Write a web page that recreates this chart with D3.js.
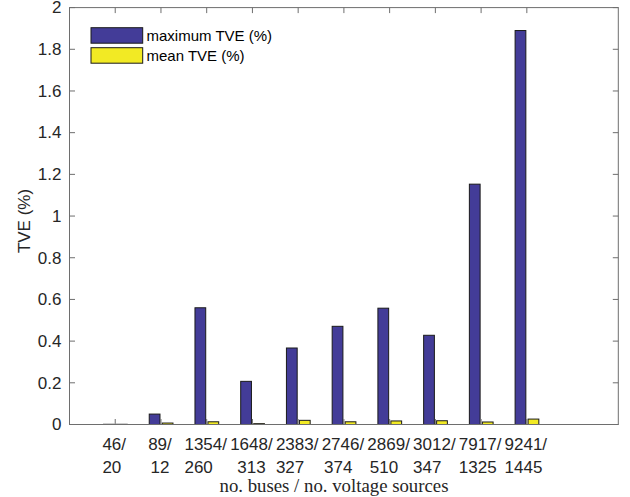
<!DOCTYPE html>
<html>
<head>
<meta charset="utf-8">
<script src="https://cdn.jsdelivr.net/npm/d3@7"></script>
<style>
  html, body { margin: 0; padding: 0; background: #fff; }
  svg { display: block; }
  text { white-space: pre; }
</style>
</head>
<body>
<svg id="chart" width="630" height="497"></svg>
<script>
// ---- data ----
const labelsTop = ["46/", "89/", "1354/", "1648/", "2383/", "2746/", "2869/", "3012/", "7917/", "9241/"];
const labelsBottom = ["20 ", "12", "260   ", "313", "327   ", "374  ", "510  ", "347   ", "1325 ", "1445 "];
const maxTVE = [0.001, 0.05, 0.56, 0.207, 0.367, 0.471, 0.558, 0.428, 1.153, 1.89];
const meanTVE = [0.001, 0.007, 0.013, 0.004, 0.02, 0.013, 0.017, 0.018, 0.012, 0.026];
const seriesNames = ["maximum TVE (%)", "mean TVE (%)"];
const yTicks = [0, 0.2, 0.4, 0.6, 0.8, 1, 1.2, 1.4, 1.6, 1.8, 2];

// ---- layout ----
const svg = d3.select("#chart");
const pLeft = 69.5, pRight = 618.3, pTop = 7.6, pBottom = 424.5;
const x = d3.scaleLinear().domain([0, 12]).range([pLeft, pRight]);
const y = d3.scaleLinear().domain([0, 2]).range([pBottom, pTop]);
const colors = ["#433c98", "#f2ea24"];
const axisColor = "#6e6e6e";
const tickLen = 5.5;
const fontSans = "Liberation Sans, Arial, sans-serif";
const tickFont = 17;

// bars
const barW = 0.235;
const offsets = [-0.139, 0.145];
const series = [maxTVE, meanTVE];
series.forEach((vals, s) => {
  svg.append("g").selectAll("rect").data(vals).join("rect")
    .attr("x", (d, i) => x(i + 1 + offsets[s] - barW / 2))
    .attr("width", x(barW) - x(0))
    .attr("y", d => y(d))
    .attr("height", d => y(0) - y(d))
    .attr("fill", colors[s])
    .attr("stroke", "#1a1a1a")
    .attr("stroke-width", 1);
});

// axes box
const g = svg.append("g");
g.append("rect")
  .attr("x", pLeft).attr("y", pTop)
  .attr("width", pRight - pLeft).attr("height", pBottom - pTop)
  .attr("fill", "none").attr("stroke", axisColor).attr("stroke-width", 1);

// y ticks (inward, both sides)
yTicks.forEach(t => {
  g.append("line").attr("x1", pLeft).attr("x2", pLeft + tickLen)
    .attr("y1", y(t)).attr("y2", y(t)).attr("stroke", axisColor);
  g.append("line").attr("x1", pRight).attr("x2", pRight - tickLen)
    .attr("y1", y(t)).attr("y2", y(t)).attr("stroke", axisColor);
  g.append("text").attr("x", pLeft - 8).attr("y", y(t) + 5.8)
    .attr("text-anchor", "end").attr("font-family", fontSans)
    .attr("font-size", tickFont).attr("fill", "#262626")
    .text(d3.format("~g")(t));
});

// x ticks (inward, both sides)
labelsTop.forEach((lab, i) => {
  const cx = x(i + 1);
  g.append("line").attr("x1", cx).attr("x2", cx)
    .attr("y1", pBottom).attr("y2", pBottom - tickLen).attr("stroke", axisColor);
  g.append("line").attr("x1", cx).attr("x2", cx)
    .attr("y1", pTop).attr("y2", pTop + tickLen).attr("stroke", axisColor);
  g.append("text").attr("x", cx - 1).attr("y", 449.5)
    .attr("text-anchor", "middle").attr("font-family", fontSans)
    .attr("font-size", tickFont).attr("fill", "#262626").text(lab);
  g.append("text").attr("x", cx - 1).attr("y", 472.5)
    .attr("text-anchor", "middle").attr("font-family", fontSans)
    .attr("font-size", tickFont).attr("fill", "#262626").text(labelsBottom[i]);
});

// axis labels
svg.append("text").attr("x", 334).attr("y", 492)
  .attr("text-anchor", "middle")
  .attr("font-family", "Liberation Serif, Times New Roman, serif")
  .attr("font-size", 18.8).attr("fill", "#262626")
  .text("no. buses / no. voltage sources");

svg.append("text")
  .attr("transform", "translate(29.5,221) rotate(-90)")
  .attr("text-anchor", "middle").attr("font-family", fontSans)
  .attr("font-size", tickFont).attr("fill", "#262626")
  .text("TVE (%)");

// legend (no box)
const leg = svg.append("g");
seriesNames.forEach((name, s) => {
  const y0 = 27.7 + s * 20;
  leg.append("rect").attr("x", 91).attr("y", y0)
    .attr("width", 51.7).attr("height", 15.5)
    .attr("fill", colors[s]).attr("stroke", "#1a1a1a").attr("stroke-width", 1);
  leg.append("text").attr("x", 146.5).attr("y", y0 + 13)
    .attr("font-family", fontSans).attr("font-size", 15)
    .attr("fill", "#000").text(name);
});
</script>
</body>
</html>
